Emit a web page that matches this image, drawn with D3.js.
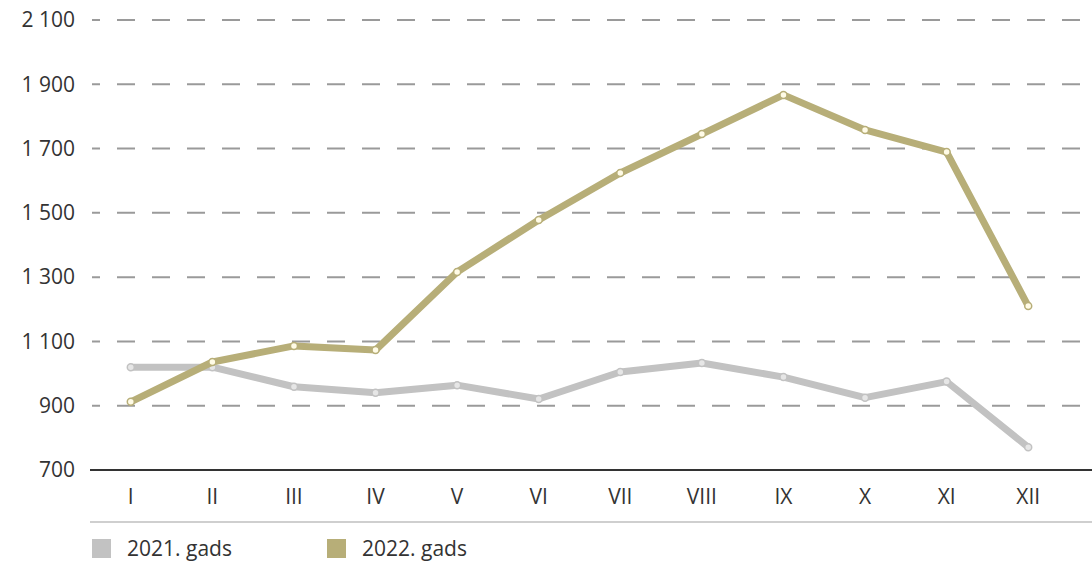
<!DOCTYPE html>
<html>
<head>
<meta charset="utf-8">
<script src="https://cdn.jsdelivr.net/npm/d3@7"></script>
<style>
  body { margin: 0; background: #fff; }
  text { font-family: "Open Sans", "Noto Sans", sans-serif; fill: #333; }
</style>
</head>
<body>
<svg id="chart" width="1092" height="563"></svg>
<script>
// chart data
var months = ["I", "II", "III", "IV", "V", "VI", "VII", "VIII", "IX", "X", "XI", "XII"];
var values2021 = [1020, 1020, 959, 940, 964, 921, 1005, 1033, 989, 925, 975, 771];
var values2022 = [912, 1036, 1086, 1073, 1316, 1478, 1624, 1745, 1867, 1758, 1689, 1210];
var yTicks = [700, 900, 1100, 1300, 1500, 1700, 1900, 2100];
var seriesNames = ["2021. gads", "2022. gads"];

var greyColor = "#c2c2c2",
	oliveColor = "#b7ae78";

var svg = d3.select("#chart");

var x = d3.scaleBand()
	.domain(months)
	.range([90, 1069]);

var y = d3.scaleLinear()
	.domain([700, 2100])
	.range([470, 20]);

var fmt = function(d) { return d3.format(",")(d).replace(",", " "); };

// dashed gridlines (skip baseline)
var dash = "8";
for (var k = 0; k < 40; k++) dash += ",17,18";

svg.append("g")
	.selectAll("line")
	.data(yTicks.slice(1))
	.enter().append("line")
	.attr("x1", 92)
	.attr("x2", 1092)
	.attr("y1", function(d) { return y(d); })
	.attr("y2", function(d) { return y(d); })
	.attr("stroke", "#9a9a9a")
	.attr("stroke-width", 2)
	.attr("stroke-dasharray", dash);

// y labels
svg.append("g")
	.selectAll("text")
	.data(yTicks)
	.enter().append("text")
	.attr("x", 75)
	.attr("y", function(d) { return y(d); })
	.attr("dy", "0.35em")
	.attr("text-anchor", "end")
	.attr("font-size", "21px")
	.text(fmt);

// axis baseline
svg.append("line")
	.attr("x1", 90).attr("x2", 1092)
	.attr("y1", y(700)).attr("y2", y(700))
	.attr("stroke", "#333").attr("stroke-width", 2);

// bottom separator
svg.append("line")
	.attr("x1", 90).attr("x2", 1092)
	.attr("y1", 522).attr("y2", 522)
	.attr("stroke", "#cfcfcf").attr("stroke-width", 2);

// x labels
svg.append("g")
	.selectAll("text")
	.data(months)
	.enter().append("text")
	.attr("x", function(d) { return x(d) + x.bandwidth() / 2; })
	.attr("y", 497)
	.attr("dy", "0.35em")
	.attr("text-anchor", "middle")
	.attr("font-size", "21px")
	.text(function(d) { return d; });

var line = d3.line()
	.x(function(d, i) { return x(months[i]) + x.bandwidth() / 2; })
	.y(function(d) { return y(d); });

function drawSeries(values, color, markerFill) {
	var g = svg.append("g");
	g.append("path")
		.datum(values)
		.attr("d", line)
		.attr("fill", "none")
		.attr("stroke", color)
		.attr("stroke-width", 7)
		.attr("stroke-linejoin", "round");
	g.selectAll("circle")
		.data(values)
		.enter().append("circle")
		.attr("cx", function(d, i) { return x(months[i]) + x.bandwidth() / 2; })
		.attr("cy", function(d) { return y(d); })
		.attr("r", 3.5)
		.attr("fill", markerFill)
		.attr("stroke", color)
		.attr("stroke-width", 1.5);
}

drawSeries(values2021, greyColor, "#e6e6e6");
drawSeries(values2022, oliveColor, "#fffbe6");

// legend
var legend = svg.append("g");
[greyColor, oliveColor].forEach(function(c, i) {
	var lx = i == 0 ? 92 : 327;
	legend.append("rect")
		.attr("x", lx).attr("y", 539)
		.attr("width", 19).attr("height", 19)
		.attr("fill", c);
	legend.append("text")
		.attr("x", lx + 35).attr("y", 556)
		.attr("font-size", "21px")
		.text(seriesNames[i]);
});
</script>
</body>
</html>
